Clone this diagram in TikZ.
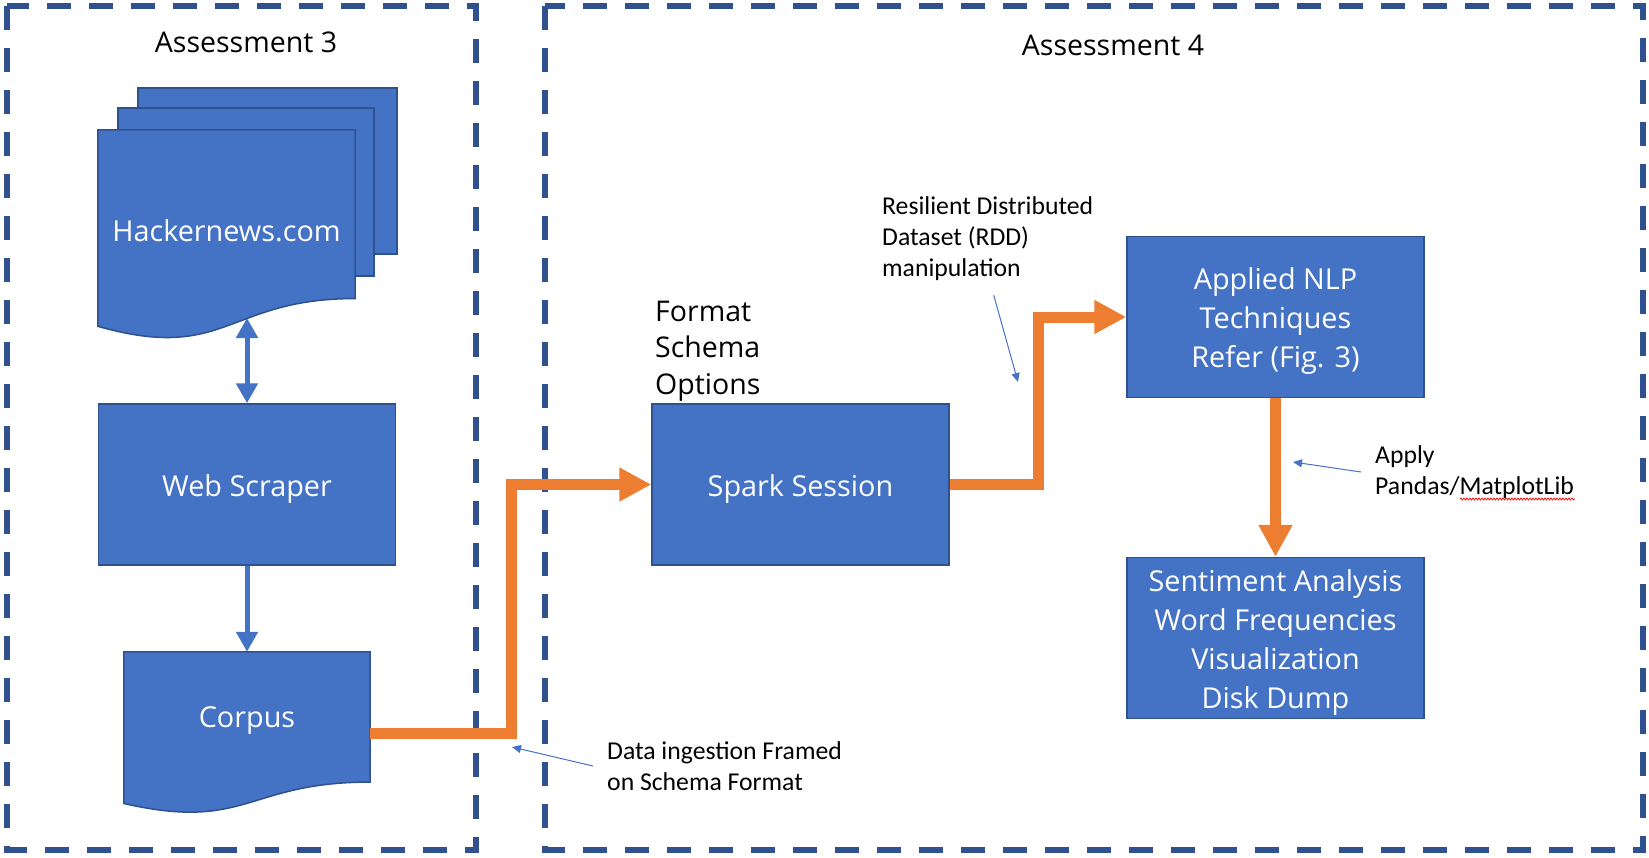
\documentclass[tikz,border=0pt]{standalone}
\usepackage{fontspec}
\setmainfont{Open Sans}
\newfontfamily\notefont{Carlito}
\usepackage{xcolor}
\usepackage{tikz}
\usetikzlibrary{calc,arrows.meta,decorations.pathmorphing}

\definecolor{boxblue}{HTML}{4472C4}
\definecolor{edgeblue}{HTML}{2F528F}
\definecolor{floworange}{HTML}{ED7D31}

\newcommand{\topstrut}{\rule{0pt}{30pt}}

\tikzset{
    groupframe/.style={edgeblue, line width=6pt, dash pattern=on 24pt off 18pt},
    blocktext/.style={text=white, font=\fontsize{28.8}{39}\selectfont, align=center},
    block/.style={blocktext, draw=edgeblue, fill=boxblue, line width=1.5pt, inner sep=0pt,
        minimum width=297pt, minimum height=161pt},
    docnode/.style={inner sep=0pt},
    sheet/.style={draw=edgeblue, fill=boxblue, line width=1.5pt},
    bluetip/.tip={Triangle[length=20pt,width=21pt]},
    blockarrow/.style={boxblue, line width=5pt, -bluetip},
    bothways/.style={boxblue, line width=5pt, bluetip-bluetip},
    flowarrow/.style={floworange, line width=11pt, line join=miter, -{Triangle[length=32pt,width=32pt]}},
    heading/.style={font=\fontsize{28.5}{34}\selectfont},
    note/.style={font=\notefont\fontsize{25.7}{31}\selectfont, align=left, inner xsep=14pt, inner ysep=0pt, anchor=west},
    pointer/.style={boxblue, line width=1pt, -{Triangle[length=9pt,width=8pt]}}
}

% wavy document outline around an (empty) node
\newcommand{\docoutline}[1]{%
    \draw[sheet] (#1.north west) -- (#1.north east)
        -- ($(#1.north east)!0.802!(#1.south east)$)
        .. controls ($(#1.north)!0.802!(#1.south)$) and ($(#1.north)!1.1075!(#1.south)$)
        .. ($(#1.north west)!0.934!(#1.south west)$) -- cycle;}

\begin{document}
\begin{tikzpicture}[x=1pt,y=-1pt]
    \useasboundingbox (0,0) rectangle (1649,857);

    % Assessment frames
    \draw[groupframe] (7,6) rectangle (476,850);
    \draw[groupframe] (545,6) rectangle (1643,850);
    \node[heading] (title3) at (246,42) {Assessment 3};
    \node[heading] (title4) at (1113,45) {Assessment 4};

    % Hackernews pages
    \draw[sheet] (138,88) rectangle (397,254);
    \draw[sheet] (118,108) rectangle (374,276);
    \node[docnode, minimum width=257pt, minimum height=210pt] (hn) at (226.5,235) {};
    \docoutline{hn}
    \node[blocktext] (hnlabel) at (226.5,231) {Hackernews.com};
    \coordinate (hnwave) at (247,318);

    % Scraper and corpus
    \node[block] (scraper) at (247,484.5) {\topstrut Web Scraper};
    \node[docnode, minimum width=246pt, minimum height=162pt] (corpus) at (247,733) {};
    \docoutline{corpus}
    \node[blocktext] (corpuslabel) at (247,721) {Corpus};

    \draw[bothways] (hnwave) -- (scraper.north);
    \draw[blockarrow] (scraper.south) -- (corpus.north);

    % Spark and NLP blocks
    \node[block] (spark) at (800.5,484.5) {\topstrut Spark Session};
    \node[block] (nlp) at (1275.5,317) {\topstrut Applied NLP\\Techniques\\Refer (Fig. 3)};
    \node[block] (results) at (1275.5,638)
        {\topstrut Sentiment Analysis\\Word Frequencies\\Visualization\\Disk Dump};
    \node[heading, align=left, anchor=west, inner sep=0pt, font=\fontsize{28.5}{36.5}\selectfont]
        (formatnote) at (655,351) {Format\\Schema\\Options};

    % Data flow
    \draw[flowarrow] (corpus.east) -- ++(141,0) |- (spark.west);
    \draw[flowarrow] (spark.east) -- ++(89,0) |- (nlp.west);
    \draw[flowarrow] (nlp.south) -- (results.north);

    % Notes
    \node[note] (ingestnote) at (593,766) {Data ingestion Framed\\on Schema Format};
    \node[note] (rddnote) at (868,239) {Resilient Distributed\\Dataset (RDD)\\manipulation};
    \node[note] (applynote) at (1361,472) {Apply\\Pandas/MatplotLib};
    \coordinate (ingesttip) at (512,747);
    \coordinate (rddtip) at (1018,382);
    \coordinate (applytip) at (1293,462);
    \draw[pointer] (ingestnote.west) -- (ingesttip);
    \draw[pointer] ([xshift=6pt,yshift=-14pt]rddnote.south) -- (rddtip);
    \draw[pointer] (applynote.west) -- (applytip);
    \draw[red, line width=0.7pt, decorate, decoration={snake, amplitude=1pt, segment length=3pt}]
        (1460,499) -- (1575,499);
\end{tikzpicture}
\end{document}
